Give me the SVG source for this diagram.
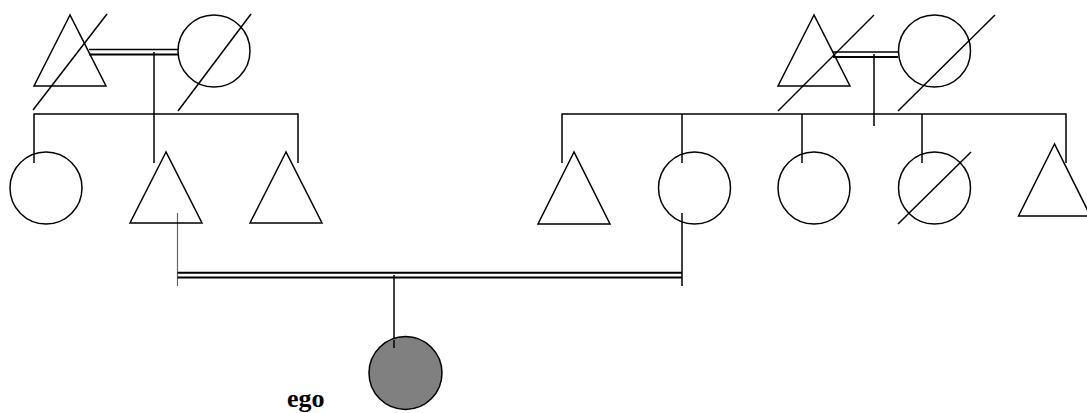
<svg xmlns="http://www.w3.org/2000/svg" width="1087" height="413" viewBox="0 0 1087 413">
<style>
.s{fill:none;stroke:#000;stroke-width:1.5}
.c{fill:none;stroke:#000;stroke-width:1.5}
.d{fill:none;stroke:#000;stroke-width:1.5}
.t{font-family:"Liberation Serif","Times New Roman",serif;font-weight:bold;font-size:26px;fill:#000}
</style>
<rect width="1087" height="413" fill="#fff"/>
<g id="connectors" class="c">
<line x1="89" y1="49.5" x2="178" y2="49.5" stroke-width="1.3"/>
<line x1="89" y1="54.5" x2="178" y2="54.5" stroke-width="1.8"/>
<line x1="154" y1="52" x2="154" y2="163"/>
<polyline points="34,163 34,114 298,114 298,163"/>
<line x1="833" y1="52" x2="898" y2="52" stroke-width="1.3"/>
<line x1="833" y1="57" x2="898" y2="57" stroke-width="1.8"/>
<line x1="874" y1="54" x2="874" y2="126"/>
<polyline points="562,163 562,114 1066,114 1066,163"/>
<line x1="682" y1="114" x2="682" y2="163"/>
<line x1="802" y1="114" x2="802" y2="163"/>
<line x1="922" y1="114" x2="922" y2="163"/>
<line x1="177.5" y1="213" x2="177.5" y2="286" stroke="#666" stroke-width="1.2"/>
<line x1="682" y1="213" x2="682" y2="286"/>
<line x1="177.5" y1="272.8" x2="682" y2="272.8" stroke-width="2"/>
<line x1="177.5" y1="277.5" x2="682" y2="277.5" stroke-width="2"/>
<line x1="394" y1="275" x2="394" y2="347"/>
</g>
<g id="gf-left"><polygon class="s" points="70,15 34,86 106,86"/><line class="d" x1="33" y1="110" x2="107" y2="14"/></g>
<g id="gm-left"><circle class="s" cx="214" cy="51" r="36"/><line class="d" x1="178" y1="111" x2="251" y2="14"/></g>
<g id="gf-right"><polygon class="s" points="814,15 778,86 850,86"/><line class="d" x1="778" y1="111" x2="874" y2="15"/></g>
<g id="gm-right"><circle class="s" cx="934.5" cy="51" r="36"/><line class="d" x1="898" y1="111" x2="995" y2="15"/></g>
<g id="aunt-l"><circle class="s" cx="46" cy="188" r="36"/></g>
<g id="father"><polygon class="s" points="166,152 130,223 202,223"/></g>
<g id="uncle-l"><polygon class="s" points="286,152 250,223 322,223"/></g>
<g id="uncle-r1"><polygon class="s" points="574,152 538,224 610,224"/></g>
<g id="mother"><circle class="s" cx="694.5" cy="188" r="36"/></g>
<g id="aunt-r1"><circle class="s" cx="814" cy="188" r="36"/></g>
<g id="aunt-r2"><circle class="s" cx="934.5" cy="188" r="36"/><line class="d" x1="898" y1="224" x2="971" y2="152"/></g>
<g id="uncle-r2"><polygon class="s" points="1054.5,144 1018.5,216 1090.5,216"/></g>
<g id="ego"><circle cx="405.5" cy="373" r="36.5" fill="#808080" stroke="#000" stroke-width="1.5"/><line x1="394" y1="340" x2="394" y2="348" stroke="#000" stroke-width="1.5"/><text class="t" x="287" y="407">ego</text></g>
</svg>
